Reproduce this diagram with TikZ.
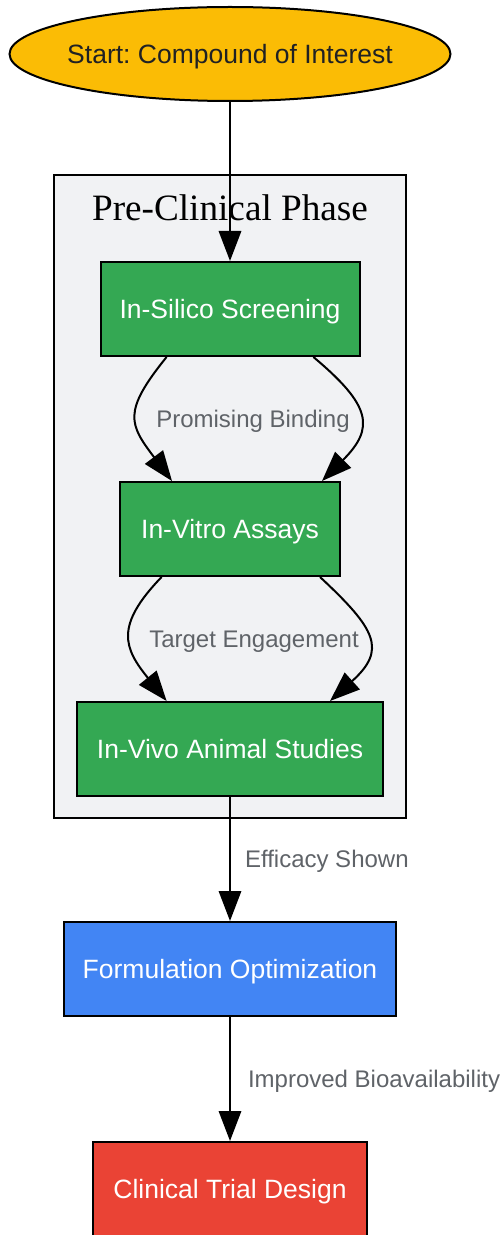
\documentclass[tikz,border=0pt]{standalone}
\usepackage{fontspec}
\setmainfont{Liberation Sans}
\newfontfamily\clusterfont{Liberation Serif}
\usepackage{xcolor}
\usetikzlibrary{calc}
\usetikzlibrary{positioning}
\usetikzlibrary{shapes.geometric}
\usetikzlibrary{arrows.meta}
\definecolor{startyellow}{HTML}{FBBC05}
\definecolor{phasegreen}{HTML}{34A853}
\definecolor{formblue}{HTML}{4285F4}
\definecolor{trialred}{HTML}{EA4335}
\definecolor{clustergray}{HTML}{F1F2F4}
\definecolor{labelgray}{HTML}{5F6368}
\definecolor{starttext}{HTML}{202124}
\frenchspacing

\begin{document}
\begin{tikzpicture}[x=0.5pt,y=-0.5pt,node distance=62pt,
	box/.style={draw=black,line width=1pt,rectangle,minimum height=47pt,text=white,text height=9.5pt,text depth=0pt,font=\fontsize{13.25}{16}\selectfont},
	edge/.style={line width=1pt,-{Triangle[length=15pt,width=11.2pt]}},
	edgelbl/.style={text=labelgray,inner sep=0pt,text height=8.6pt,text depth=0pt,font=\fontsize{12}{14}\selectfont}]
	\useasboundingbox (0,0) rectangle (501,1235);
	
	\draw[fill=clustergray,line width=1pt] (54,175) rectangle (406,818);
	\node[font=\clusterfont\fontsize{18.6}{22}\selectfont,anchor=base] (phasetitle) at (230,221) {Pre-Clinical Phase};
	
	\node[ellipse,draw=black,line width=1pt,fill=startyellow,text=starttext,inner xsep=-3.5pt,inner ysep=0pt,text height=9.5pt,text depth=0pt,minimum width=220.5pt,minimum height=47pt,font=\fontsize{13.25}{16}\selectfont] (start) at (230,54) {Start: Compound of Interest};
	\node[box,fill=phasegreen,minimum width=129.5pt,below=79.5pt of start] (silico) {In-Silico Screening};
	\node[box,fill=phasegreen,minimum width=110pt,below=of silico] (vitro) {In-Vitro Assays};
	\node[box,fill=phasegreen,minimum width=153pt,below=of vitro] (vivo) {In-Vivo Animal Studies};
	\node[box,fill=formblue,minimum width=166pt,below=of vivo] (form) {Formulation Optimization};
	\node[box,fill=trialred,minimum width=137pt,below=of form] (trial) {Clinical Trial Design};
	
	\draw[edge] (start) -- (silico);
	\draw[edge] ([xshift=-31.7pt]silico.south) to[out=-129,in=127,looseness=1.46] ([xshift=-29pt]vitro.north);
	\draw[edge] ([xshift=41.7pt]silico.south) to[out=-40,in=45,looseness=1.55] ([xshift=46pt]vitro.north);
	\node[edgelbl] (bindlbl) at ($(silico.south)!0.5!(vitro.north)+(11.5pt,0)$) {Promising Binding};
	
	\draw[edge] ([xshift=-34.2pt]vitro.south) to[out=-134,in=129,looseness=1.4] ([xshift=-31.7pt]vivo.north);
	\draw[edge] ([xshift=45pt]vitro.south) to[out=-43,in=42,looseness=1.58] ([xshift=50pt]vivo.north);
	\node[edgelbl] (targetlbl) at ($(vitro.south)!0.5!(vivo.north)+(12pt,0)$) {Target Engagement};
	
	\draw[edge] (vivo) -- node[edgelbl,right=7pt] (efficacylbl) {Efficacy Shown} (form);
	\draw[edge] (form) -- node[edgelbl,right=8.5pt] (bioavlbl) {Improved Bioavailability} (trial);
	
\end{tikzpicture}
\end{document}
